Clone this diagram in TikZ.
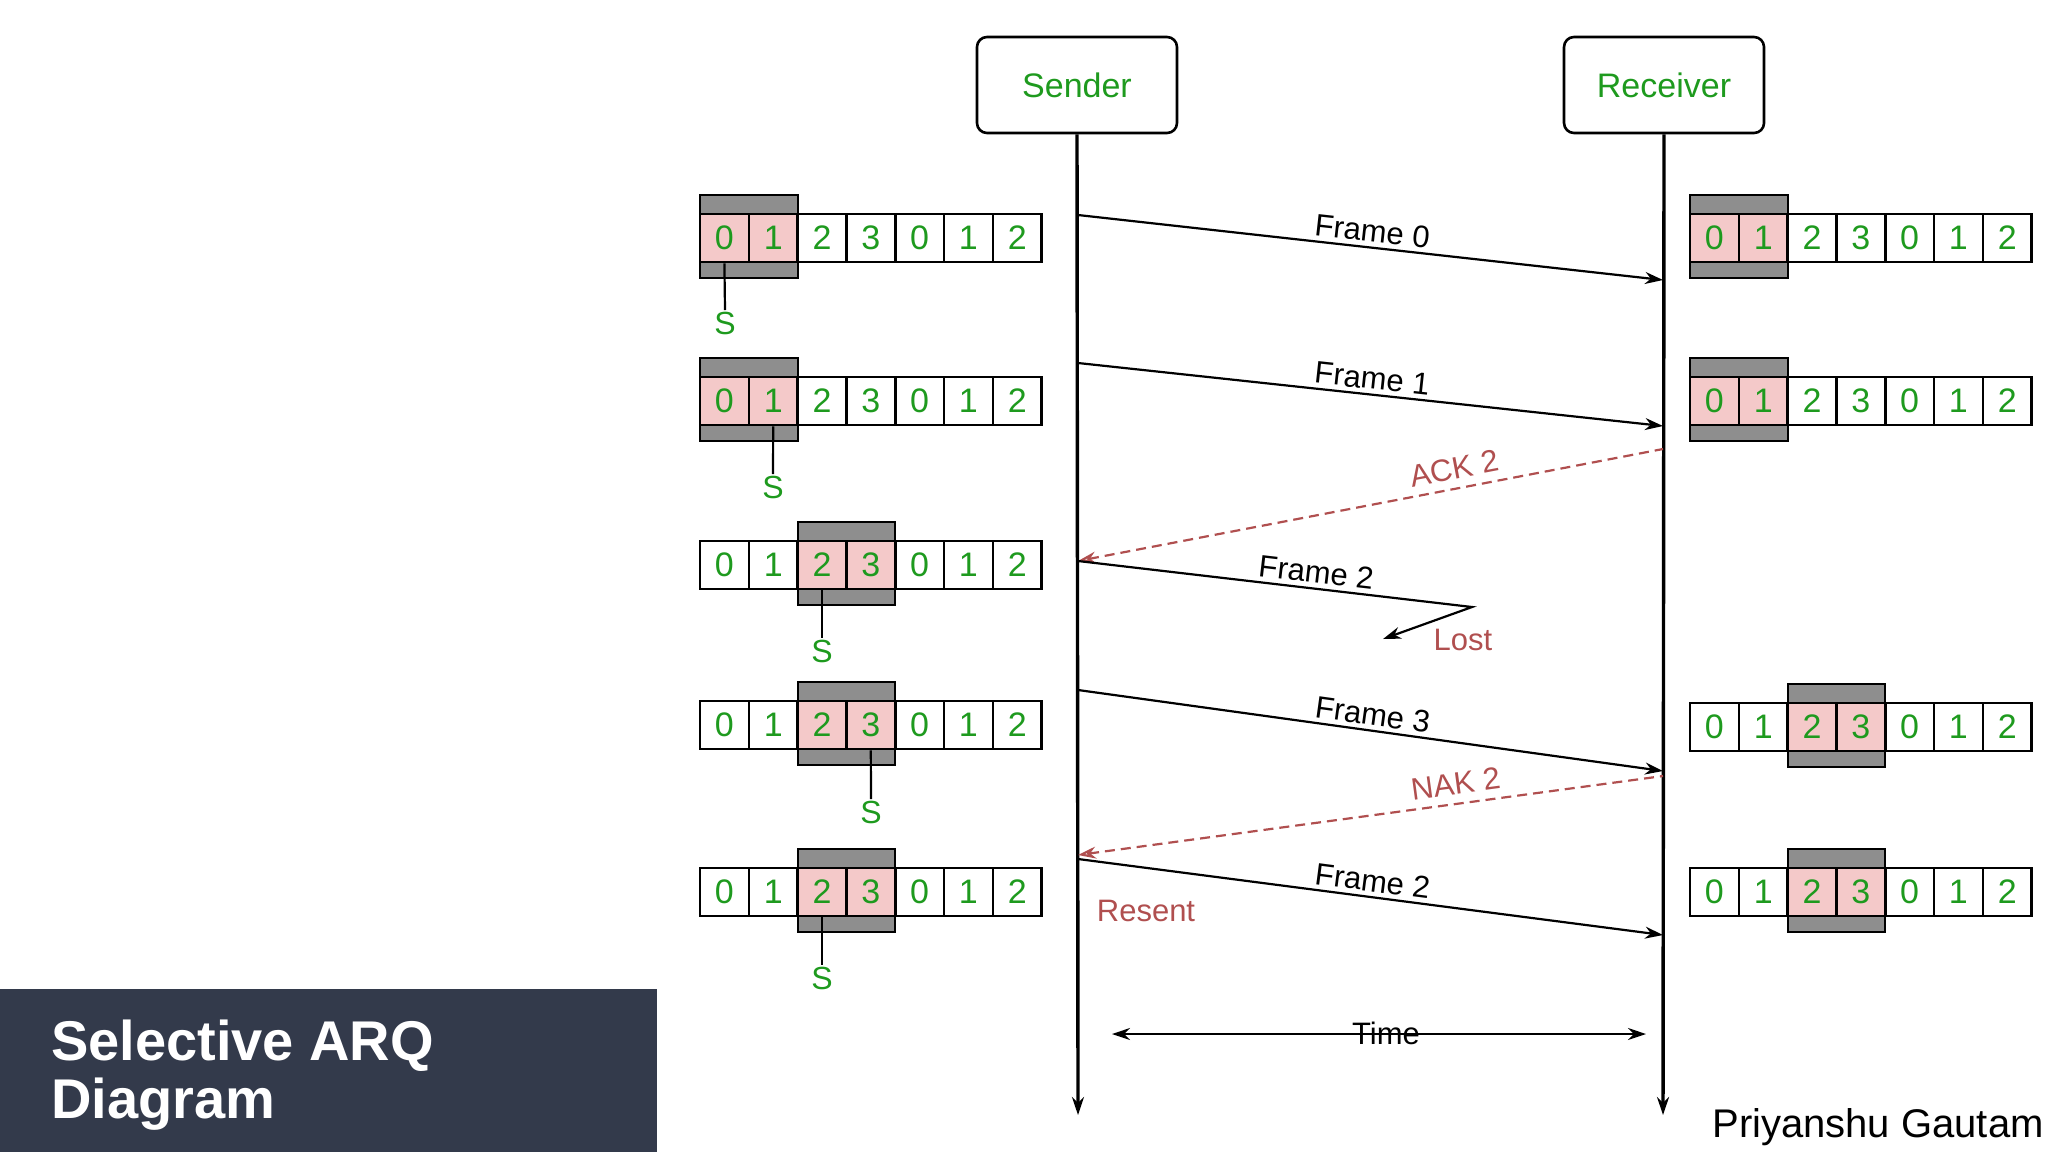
\documentclass[tikz,border=0pt]{standalone}
\usepackage{fontspec}
\setmainfont{Liberation Sans}
\usetikzlibrary{arrows.meta}
\definecolor{gr}{HTML}{1E9A1E}
\definecolor{pk}{HTML}{F4C9C9}
\definecolor{gy}{HTML}{8E8E8E}
\definecolor{rd}{HTML}{B04F4F}
\definecolor{navy}{HTML}{333A4B}
\newcommand\myrow[4]{% x, y, window start index, name
  \fill[gy,draw=black,line width=1] (#1+#3*48.8,#2-43) rectangle (#1+#3*48.8+97.6,#2+40);
  \foreach \i/\d in {0/0,1/1,2/2,3/3,4/0,5/1,6/2}{
    \pgfmathtruncatemacro\inw{(\i>=#3)&&(\i<#3+2)}
    \ifnum\inw=1 \def\fc{pk}\else\def\fc{white}\fi
    \node[cell,fill=\fc] (#4c\i) at (#1+\i*48.8+24.4,#2) {\d};
  }
}
\tikzset{
  cell/.style={draw=black,line width=1.3,minimum width=24.4pt,minimum height=24pt,inner sep=0,text=gr,font=\fontsize{17}{17}\selectfont},
  ent/.style={draw=black,line width=1.3,rounded corners=5pt,minimum width=100pt,minimum height=48pt,text=gr,font=\fontsize{17}{17}\selectfont},
  msg/.style={-{Stealth[length=9pt,width=6pt]},line width=1.1},
  dmsg/.style={{Stealth[length=9pt,width=6pt,open]}-,line width=1.1,rd,dash pattern=on 5pt off 3pt},
  lbl/.style={sloped,above,inner sep=2pt,font=\fontsize{15.5}{15.5}\selectfont},
  dlbl/.style={lbl,inner sep=4pt},
  slbl/.style={text=gr,font=\fontsize{16}{16}\selectfont,inner sep=1},
}
\begin{document}
\begin{tikzpicture}[x=0.5pt,y=-0.5pt]
\useasboundingbox (0,0) rectangle (2048,1152);
\fill[navy] (0,989) rectangle (657,1152);
\node[anchor=west,text=white,align=left,font=\bfseries\fontsize{28}{29}\selectfont] (title) at (44,1075) {Selective ARQ\\Diagram};
\node[anchor=south east,font=\fontsize{20}{20}\selectfont,inner sep=0] (auth) at (2044,1146) {Priyanshu Gautam};

\node[ent] (snd) at (1077,85) {Sender};
\node[ent] (rcv) at (1664,85) {Receiver};
\coordinate (send) at (1078,1115);
\coordinate (rend) at (1663,1115);
\draw[msg,line width=1.7] (snd.south) -- (send);
\draw[msg,line width=1.7] (rcv.south) -- (rend);

% sender rows
\myrow{700}{238}{0}{sa}
\myrow{700}{401}{0}{sb}
\myrow{700}{565}{2}{sc}
\myrow{700}{725}{2}{sd}
\myrow{700}{892}{2}{se}
% receiver rows
\myrow{1690}{238}{0}{ra}
\myrow{1690}{401}{0}{rb}
\myrow{1690}{727}{2}{rc}
\myrow{1690}{892}{2}{rd}

% S pointers
\node[slbl,anchor=north] (s1) at (725,310) {S};
\node[slbl,anchor=north] (s2) at (773,474) {S};
\node[slbl,anchor=north] (s3) at (822,638) {S};
\node[slbl,anchor=north] (s4) at (871,799) {S};
\node[slbl,anchor=north] (s5) at (822,965) {S};
\draw[line width=1.1] (sac0.south) -- (s1.north);
\draw[line width=1.1] (sbc1.south) -- (s2.north);
\draw[line width=1.1] (scc2.south) -- (s3.north);
\draw[line width=1.1] (sdc3.south) -- (s4.north);
\draw[line width=1.1] (sec2.south) -- (s5.north);

% lifeline points
\coordinate (a0) at (1078,215); \coordinate (b0) at (1663,280);
\coordinate (a1) at (1078,363); \coordinate (b1) at (1663,426);
\coordinate (k0) at (1663,449); \coordinate (k1) at (1078,561);
\coordinate (lost1) at (1472,607); \coordinate (lost2) at (1383,639);
\coordinate (a3) at (1078,690); \coordinate (b3) at (1663,771);
\coordinate (n0) at (1663,776); \coordinate (n1) at (1078,855);
\coordinate (a5) at (1078,859); \coordinate (b5) at (1663,935);

\draw[msg] (a0) -- node[lbl,pos=0.5] {Frame 0} (b0);
\draw[msg] (a1) -- node[lbl,pos=0.5] {Frame 1} (b1);
\draw[dmsg] (k1) -- node[dlbl,pos=0.65,text=rd] {ACK 2} (k0);
\draw[msg] (k1) -- node[lbl,pos=0.6] {Frame 2} (lost1) -- (lost2);
\node[text=rd,font=\fontsize{15.5}{15.5}\selectfont] (lost) at (1463,640) {Lost};
\draw[msg] (a3) -- node[lbl,pos=0.5] {Frame 3} (b3);
\draw[dmsg] (n1) -- node[dlbl,pos=0.65,text=rd] {NAK 2} (n0);
\draw[msg] (a5) -- node[lbl,pos=0.5] {Frame 2} (b5);
\node[text=rd,font=\fontsize{15.5}{15.5}\selectfont] (resent) at (1146,911) {Resent};

\coordinate (t0) at (1112,1034); \coordinate (t1) at (1646,1034);
\draw[{Stealth[length=9pt,width=6pt]}-{Stealth[length=9pt,width=6pt]},line width=1.1] (t0) -- (t1);
\node[font=\fontsize{15.5}{15.5}\selectfont] (time) at (1386,1033) {Time};
\end{tikzpicture}
\end{document}
